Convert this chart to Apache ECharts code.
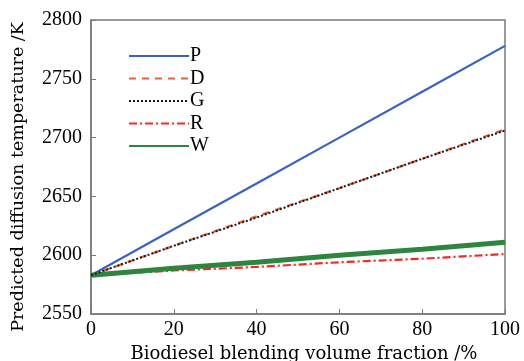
<!DOCTYPE html>
<html>
<head>
<meta charset="utf-8">
<script src="https://cdn.jsdelivr.net/npm/echarts@6/dist/echarts.min.js"></script>
<style>html,body{margin:0;padding:0;background:#fff}#c{width:524px;height:361px}</style>
</head>
<body>
<div id="c"></div>
<script>
var xValues = [0, 20, 40, 60, 80, 100];
var seriesP = [2583, 2622, 2661, 2700, 2739, 2778];
var seriesD = [2583, 2608, 2633, 2657, 2682, 2707];
var seriesG = [2583, 2608, 2632, 2657, 2682, 2706];
var seriesR = [2583, 2587, 2590, 2594, 2597, 2601];
var seriesW = [2583, 2589, 2594, 2600, 2605, 2611];
var names = ['P', 'D', 'G', 'R', 'W'];
var xTitle = 'Biodiesel blending volume fraction /%';
var yTitle = 'Predicted diffusion temperature /K';

function pairs(v){ return xValues.map(function(x,i){ return [x, v[i]]; }); }

var FONT = 'Liberation Serif';
var TFONT = 'DejaVu Serif';
var chart = echarts.init(document.getElementById('c'), null, {renderer:'canvas'});
var axisCol = '#7a7a7a';
chart.setOption({
  animation: false,
  grid: {left: 91, right: 19, top: 20, bottom: 47, outerBoundsMode: 'none', containLabel: false, show: true, borderColor: axisCol, borderWidth: 1.5, backgroundColor: 'transparent'},
  legend: {
    orient: 'vertical', left: 128, top: 46, padding: 0, itemWidth: 60, itemHeight: 12, itemGap: 2.5,
    itemStyle: {opacity: 0},
    textStyle: {fontFamily: FONT, fontSize: 20, color: '#000', padding: [0,0,0,-4]},
    data: names
  },
  xAxis: {
    type: 'value', min: 0, max: 100, interval: 20,
    name: xTitle, nameLocation: 'middle', nameGap: 25,
    nameTextStyle: {fontFamily: TFONT, fontSize: 18, color: '#000', padding: [0,0,0,12]},
    axisLine: {show: true, lineStyle: {color: axisCol, width: 1.5}},
    axisTick: {show: true, inside: true, length: 5, lineStyle: {color: axisCol}},
    axisLabel: {fontFamily: FONT, fontSize: 20, color: '#000', margin: 6, formatter: function(v){return String(v);}},
    splitLine: {show: false}
  },
  yAxis: {
    type: 'value', min: 2550, max: 2800, interval: 50,
    name: yTitle, nameLocation: 'middle', nameGap: 64,
    nameTextStyle: {fontFamily: TFONT, fontSize: 17.5, color: '#000', padding: [0,20,0,0]},
    axisLine: {show: true, lineStyle: {color: axisCol, width: 1.5}},
    axisTick: {show: true, inside: true, length: 5, lineStyle: {color: axisCol}},
    axisLabel: {fontFamily: FONT, fontSize: 20, color: '#000', margin: 9, formatter: function(v){return String(v);}},
    splitLine: {show: false}
  },
  series: [
    {name: 'P', type: 'line', data: pairs(seriesP), symbol: 'none', lineStyle: {color: '#3a62c0', width: 2.2}, itemStyle:{color:'#3a62c0'}, z: 2},
    {name: 'D', type: 'line', data: pairs(seriesD), symbol: 'none', lineStyle: {color: '#e8613a', width: 2.2, type: [7, 6]}, itemStyle:{color:'#e8613a'}, z: 2},
    {name: 'G', type: 'line', data: pairs(seriesG), symbol: 'none', lineStyle: {color: '#1a1a1a', width: 2, type: [2, 2]}, itemStyle:{color:'#1a1a1a'}, z: 3},
    {name: 'R', type: 'line', data: pairs(seriesR), symbol: 'none', lineStyle: {color: '#f02828', width: 2.2, type: [8, 3, 2, 3]}, itemStyle:{color:'#f02828'}, z: 2},
    {name: 'W', type: 'line', data: pairs(seriesW), symbol: 'none', lineStyle: {color: '#2e8540', width: 5}, itemStyle:{color:'#2e8540'}, z: 2}
  ]
});
</script>
</body>
</html>
